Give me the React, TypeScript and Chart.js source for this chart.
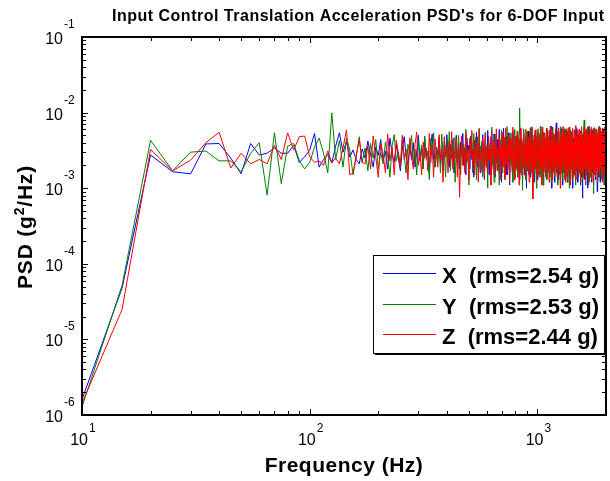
import React, { useEffect, useRef } from "react";
import { Chart, registerables } from "chart.js";

Chart.register(...registerables);

// ---------- data ----------
const freqStart = 10;
const freqStep = 5;
const freqEnd = 2000;
const frequencies: number[] = [];
for (let f = freqStart; f <= freqEnd; f += freqStep) frequencies.push(f);

// PSD values in units of 1e-3 g^2/Hz, one per frequency bin (10, 15, 20, ... 2000 Hz)
const psdUnit = 1e-3;

const psdX = [
  0.0016, 0.048, 2.75, 1.65, 1.55, 3.85, 3.9, 2.5, 1.55, 3.9, 2.75, 2.9, 3.4, 2.9, 2.9, 3.7, 2.2, 2.6, 3.2, 5.3,
  1.9, 2.4, 2.8, 2.15, 3.6, 5.4, 3.0, 4.1, 2.6, 3.2, 2.4, 2.1, 3.3, 2.5, 4.2, 2.8, 1.9, 3.5, 2.7, 4.4,
  2.3, 3.1, 1.8, 4.6, 2.9, 2.2, 3.8, 2.5, 1.7, 3.3, 4.8, 2.6, 2.0, 3.6, 2.4, 4.0, 1.9, 3.0, 5.0, 2.3,
  3.4, 1.8, 4.5, 2.7, 3.1, 1.6, 3.9, 5.2, 2.4, 1.9, 3.5, 2.8, 4.7, 2.1, 3.3, 1.7, 4.2, 2.6, 5.1, 3.0,
  1.9, 3.8, 2.5, 4.4, 1.6, 3.2, 5.0, 2.2, 3.6, 1.8, 4.1, 2.7, 5.3, 2.0, 3.4, 1.5, 4.6, 2.9, 3.7, 1.8,
  4.9, 2.4, 3.3, 1.4, 4.3, 2.8, 5.5, 1.9, 3.1, 4.0, 1.6, 3.6, 2.3, 5.1, 2.7, 1.3, 4.5, 3.0, 2.1, 5.8,
  2.5, 1.5, 3.9, 4.8, 1.8, 3.2, 2.6, 5.2, 1.4, 3.7, 2.2, 4.4, 1.7, 3.4, 6.0, 2.0, 2.9, 1.2, 4.7, 3.1,
  6.2, 1.9, 3.5, 2.4, 4.9, 1.5, 3.0, 5.4, 2.2, 1.1, 4.1, 2.8, 3.6, 1.7, 5.6, 2.5, 3.3, 1.4, 4.6, 2.0,
  3.8, 5.0, 1.6, 2.9, 4.3, 1.3, 3.4, 6.1, 2.3, 1.8, 4.0, 2.7, 5.3, 1.5, 3.1, 2.1, 4.8, 1.0, 3.7, 2.6,
  5.7, 1.9, 3.2, 4.5, 1.4, 2.8, 6.3, 2.2, 1.6, 4.2, 3.0, 1.2, 5.1, 2.5, 3.6, 1.8, 4.7, 2.4, 1.3, 5.5,
  2.9, 3.9, 1.5, 4.4, 2.1, 6.0, 1.7, 3.3, 2.6, 4.9, 1.1, 3.5, 2.3, 5.2, 1.6, 3.8, 2.8, 1.3, 4.6, 2.0,
  5.8, 1.8, 3.1, 4.1, 1.4, 2.7, 6.6, 2.2, 3.6, 1.0, 4.3, 2.5, 5.0, 1.7, 3.4, 2.9, 1.2, 4.8, 2.1, 3.7,
  7.3, 1.6, 3.0, 4.5, 2.3, 1.3, 5.4, 2.8, 3.9, 1.5, 4.2, 2.0, 6.1, 1.8, 3.3, 2.6, 1.1, 5.0, 2.4, 3.5,
  1.7, 4.7, 2.2, 5.9, 1.4, 3.2, 2.7, 4.0, 1.2, 5.6, 2.5, 3.6, 1.6, 4.4, 2.1, 6.4, 1.3, 3.0, 2.8, 4.9,
  1.8, 3.8, 2.3, 5.3, 1.0, 3.4, 4.6, 2.0, 1.5, 5.9, 2.6, 3.1, 1.3, 4.3, 2.2, 6.2, 1.7, 3.7, 2.9, 1.2,
  5.1, 2.4, 3.9, 1.6, 4.8, 2.0, 3.3, 1.1, 5.7, 2.7, 3.5, 1.4, 4.2, 0.74, 3.0, 2.2, 5.4, 1.8, 3.8, 2.5,
  1.3, 6.0, 2.1, 3.2, 4.5, 1.5, 2.8, 5.2, 1.9, 3.6, 1.0, 4.9, 2.4, 3.1, 6.5, 1.7, 2.6, 4.1, 1.4, 3.4,
  5.6, 2.0, 3.7, 1.2, 4.4, 2.9, 1.6, 5.9, 2.3, 3.3, 1.1, 4.7, 2.6, 3.9, 1.5, 6.1, 2.1, 3.0, 1.3, 4.6,
  2.7, 5.3, 1.8, 3.5, 0.9, 4.2, 2.4, 3.2, 1.4, 6.3, 2.0, 3.8, 1.7, 5.0, 2.5, 1.2, 4.4, 3.1, 2.2, 5.7,
  1.6, 3.6, 2.8, 4.9, 1.3, 3.0, 2.3, 6.0, 1.9, 3.4, 1.1, 4.5, 2.6, 3.7, 1.5, 5.2, 2.1, 3.3, 0.025,
];

const psdY = [
  0.00128, 0.052, 4.3, 1.7, 3.0, 3.1, 2.3, 2.3, 1.65, 2.9, 4.0, 0.81, 5.4, 1.15, 3.6, 3.9, 2.3, 1.8, 2.2, 3.5,
  4.6, 2.9, 1.6, 9.9, 2.4, 4.3, 1.9, 4.6, 3.2, 1.5, 2.6, 4.8, 2.2, 3.4, 1.7, 3.9, 2.5, 4.4, 1.8, 3.0,
  2.1, 4.1, 2.7, 1.4, 3.6, 5.1, 2.3, 3.0, 1.9, 4.4, 2.6, 1.6, 3.8, 2.9, 5.0, 2.0, 3.3, 1.5, 4.2, 2.5,
  3.7, 1.8, 4.9, 2.4, 3.1, 1.3, 4.5, 2.8, 5.4, 1.9, 3.4, 2.2, 4.0, 1.6, 5.2, 2.7, 3.0, 1.4, 4.3, 2.3,
  5.6, 1.7, 3.5, 2.6, 4.7, 1.2, 3.2, 2.0, 5.0, 2.9, 1.5, 4.1, 2.4, 3.8, 1.8, 6.0, 2.2, 3.3, 1.1, 4.6,
  2.7, 3.9, 1.6, 5.3, 2.1, 3.4, 1.3, 4.8, 2.5, 6.2, 1.8, 3.0, 4.2, 1.4, 3.6, 2.3, 5.5, 1.9, 2.8, 1.0,
  4.4, 2.6, 3.7, 1.5, 6.4, 2.0, 3.2, 1.2, 4.9, 2.8, 5.1, 1.7, 3.5, 2.2, 1.1, 4.3, 2.9, 5.8, 1.6, 3.3,
  2.4, 4.7, 1.3, 3.9, 2.1, 6.5, 1.8, 3.0, 4.4, 1.5, 2.7, 5.4, 2.0, 3.6, 1.2, 4.1, 2.5, 6.0, 1.7, 3.1,
  4.8, 2.2, 1.4, 3.7, 5.2, 11.5, 2.6, 1.6, 4.5, 2.9, 0.94, 3.4, 6.1, 1.9, 3.0, 4.2, 1.3, 2.7, 5.6, 2.1,
  3.8, 1.5, 4.6, 2.4, 6.3, 1.8, 3.2, 2.0, 5.0, 1.2, 3.6, 4.4, 1.6, 2.8, 5.9, 2.2, 1.0, 4.0, 3.0, 1.7,
  5.3, 2.5, 3.4, 1.4, 6.6, 2.1, 3.9, 1.6, 4.7, 2.8, 1.1, 5.5, 2.3, 3.2, 1.8, 4.2, 2.6, 6.2, 1.3, 3.6,
  2.0, 4.9, 1.7, 3.1, 5.7, 1.5, 2.7, 4.3, 1.2, 3.8, 6.4, 2.2, 1.6, 4.5, 2.9, 5.1, 1.4, 3.3, 2.4, 6.0,
  1.8, 3.5, 2.6, 4.8, 1.1, 3.0, 5.6, 2.0, 1.5, 4.1, 2.8, 6.5, 1.7, 3.7, 2.3, 1.3, 5.0, 2.5, 3.9, 1.6,
  6.1, 2.1, 3.4, 1.2, 4.6, 2.9, 1.9, 5.4, 2.4, 3.6, 1.4, 6.3, 2.2, 3.1, 1.0, 4.4, 2.7, 5.9, 1.6, 3.3,
  2.5, 4.7, 1.3, 3.8, 6.0, 1.8, 2.9, 4.2, 1.5, 5.5, 2.3, 3.5, 1.1, 6.7, 2.0, 3.2, 4.9, 1.7, 2.6, 5.2,
  1.4, 3.7, 2.2, 4.5, 1.9, 5.0, 2.8, 1.2, 4.0, 3.0, 6.2, 1.6, 3.4, 2.4, 5.1, 1.3, 3.9, 2.1, 6.4, 8.0,
  1.8, 4.3, 2.5, 3.6, 1.1, 5.8, 2.0, 3.3, 1.5, 4.8, 2.9, 6.5, 1.7, 3.0, 2.3, 4.6, 1.2, 5.3, 2.6, 3.8,
  1.6, 6.0, 2.1, 3.5, 1.3, 4.4, 2.8, 5.6, 1.9, 3.2, 0.85, 4.9, 2.4, 6.3, 1.5, 3.7, 2.2, 4.1, 1.4, 5.4,
  2.7, 3.4, 1.7, 6.1, 2.0, 4.6, 1.2, 3.9, 2.5, 5.2, 1.6, 3.1, 2.3, 6.6, 1.4, 4.3, 2.9, 1.8, 5.7, 2.1,
  3.6, 1.3, 4.8, 2.6, 6.2, 1.9, 3.3, 1.5, 5.0, 2.4, 3.8, 1.1, 6.4, 2.2, 4.1, 1.7, 3.5, 2.8, 0.013,
];

const psdZ = [
  0.00143, 0.025, 3.25, 1.7, 2.35, 4.0, 5.5, 1.85, 2.9, 2.1, 2.4, 2.1, 3.7, 2.4, 5.4, 3.2, 4.8, 4.9, 2.6, 2.2,
  2.3, 2.0, 3.1, 2.2, 2.5, 2.1, 3.4, 5.9, 1.5, 1.6, 2.7, 4.4, 2.2, 2.1, 3.6, 1.8, 4.9, 2.6, 1.4, 3.9,
  2.8, 1.6, 5.2, 2.3, 3.5, 1.5, 4.3, 2.9, 1.9, 5.0, 2.4, 3.3, 1.3, 4.6, 2.7, 1.8, 3.8, 5.5, 2.0, 3.0,
  1.5, 4.1, 2.5, 3.4, 1.7, 5.3, 2.2, 3.7, 1.4, 4.5, 2.8, 1.9, 5.1, 2.4, 3.2, 1.2, 4.8, 2.6, 3.6, 1.6,
  4.2, 2.1, 5.6, 1.8, 3.0, 2.5, 4.6, 1.4, 3.9, 0.76, 2.7, 4.9, 2.0, 3.5, 1.6, 5.4, 2.3, 3.1, 1.3, 4.4,
  2.6, 5.8, 1.9, 3.3, 1.5, 4.7, 2.2, 3.8, 1.2, 6.0, 2.5, 3.0, 1.7, 4.5, 2.9, 1.4, 5.2, 2.0, 3.6, 1.6,
  4.9, 2.4, 3.2, 1.1, 5.6, 2.7, 3.9, 1.5, 4.3, 2.1, 6.1, 1.8, 3.4, 2.6, 4.8, 1.3, 3.7, 2.3, 5.5, 1.9,
  3.1, 4.4, 1.4, 6.2, 2.2, 3.5, 1.7, 5.0, 2.8, 1.2, 4.6, 2.5, 3.8, 1.6, 6.4, 2.0, 3.3, 1.3, 4.9, 2.7,
  1.8, 5.7, 2.3, 3.6, 1.1, 4.5, 3.0, 6.3, 1.5, 2.6, 4.1, 1.9, 5.3, 2.4, 3.4, 1.4, 6.0, 2.1, 3.9, 1.7,
  4.7, 2.8, 1.2, 5.5, 2.2, 3.7, 1.6, 6.5, 2.5, 0.72, 4.3, 3.1, 1.8, 5.8, 2.0, 3.5, 1.3, 4.9, 2.7, 6.1,
  1.5, 3.3, 2.4, 5.0, 1.9, 4.2, 2.9, 1.1, 6.4, 2.2, 3.6, 1.7, 5.4, 2.6, 3.9, 1.4, 4.7, 2.0, 6.2, 2.8,
  1.6, 4.4, 3.0, 1.2, 5.9, 2.3, 3.5, 1.8, 6.6, 2.5, 1.3, 4.6, 3.2, 2.0, 5.3, 1.5, 3.8, 2.7, 6.0, 1.9,
  4.1, 2.4, 1.4, 5.7, 3.1, 2.1, 6.3, 1.7, 3.7, 2.6, 1.0, 4.8, 2.3, 5.5, 1.6, 3.4, 2.9, 6.5, 1.8, 4.0,
  2.2, 1.3, 5.1, 3.3, 2.0, 6.1, 1.5, 3.9, 2.7, 4.6, 1.2, 5.8, 2.4, 3.6, 1.7, 6.4, 2.1, 1.1, 4.3, 3.0,
  5.6, 1.9, 3.5, 2.5, 6.2, 1.4, 4.0, 2.8, 1.6, 5.3, 3.2, 2.0, 6.7, 1.3, 3.8, 2.6, 4.9, 1.8, 5.9, 2.3,
  1.5, 4.5, 3.0, 6.0, 1.7, 3.6, 2.2, 5.4, 1.2, 4.1, 2.8, 6.5, 1.9, 3.3, 2.4, 5.0, 1.4, 4.4, 2.7, 6.3,
  1.8, 3.7, 2.1, 5.7, 1.3, 4.6, 3.1, 2.3, 6.1, 1.6, 3.9, 2.6, 5.2, 1.1, 4.3, 2.9, 6.6, 1.7, 3.4, 2.2,
  5.5, 1.4, 4.0, 2.7, 6.4, 1.9, 3.2, 2.4, 5.0, 1.2, 4.7, 3.0, 6.2, 1.6, 3.6, 2.1, 5.8, 1.5, 4.2, 2.8,
  6.0, 1.8, 3.5, 2.3, 5.4, 1.3, 4.4, 2.6, 6.5, 1.7, 3.8, 2.0, 5.1, 1.4, 4.6, 3.1, 6.3, 1.9, 3.3, 2.5,
  5.7, 1.6, 4.1, 2.9, 6.1, 1.2, 3.7, 2.2, 5.3, 1.8, 4.5, 2.7, 6.4, 1.5, 3.9, 2.4, 5.6, 1.9, 0.06,
];

const seriesValues = [psdX, psdY, psdZ];
const seriesNames = ["X  (rms=2.54 g)", "Y  (rms=2.53 g)", "Z  (rms=2.44 g)"];
const seriesColors = ["#0000ff", "#008000", "#ff0000"];

const xMin = 10;
const xMax = 2000;
const yMin = 1e-6;
const yMax = 1e-1;
const xTickExponents = [1, 2, 3];
const yTickExponents = [-6, -5, -4, -3, -2, -1];

const titleText = "Input Control Translation Acceleration PSD's for 6-DOF Input";
const xTitle = "Frequency (Hz)";
const yTitleParts = ["PSD (g", "2", "/Hz)"];

const FONT = 'Arial, "Liberation Sans", Helvetica, sans-serif';

function setSpacing(ctx: any, v: string) {
  try {
    ctx.letterSpacing = v;
  } catch (e) {}
}

const decorPlugin = {
  id: "matlabDecor",
  afterDatasetsDraw(chart: any) {
    const ctx: CanvasRenderingContext2D = chart.ctx;
    const { left, right, top, bottom } = chart.chartArea;
    const xs = chart.scales.x;
    const ys = chart.scales.y;
    ctx.save();

    // ticks (inward, all four sides)
    ctx.strokeStyle = "#000";
    ctx.lineWidth = 1;
    ctx.beginPath();
    for (let d = 1; d <= 3; d++) {
      for (let m = 1; m <= 9; m++) {
        const v = m * Math.pow(10, d);
        if (v <= xMin || v >= xMax) continue;
        const px = Math.round(xs.getPixelForValue(v)) + 0.5;
        const len = m === 1 ? 6 : 4;
        ctx.moveTo(px, bottom);
        ctx.lineTo(px, bottom - len);
        ctx.moveTo(px, top);
        ctx.lineTo(px, top + len);
      }
    }
    for (let d = -6; d <= -2; d++) {
      for (let m = 1; m <= 9; m++) {
        const v = m * Math.pow(10, d);
        if (v <= yMin || v >= yMax) continue;
        const py = Math.round(ys.getPixelForValue(v)) + 0.5;
        const len = m === 1 ? 6 : 4;
        ctx.moveTo(left, py);
        ctx.lineTo(left + len, py);
        ctx.moveTo(right, py);
        ctx.lineTo(right - len, py);
      }
    }
    ctx.stroke();

    // axes box
    ctx.lineWidth = 2;
    ctx.strokeRect(left, top, right - left, bottom - top);

    // tick labels
    ctx.fillStyle = "#000";
    ctx.textBaseline = "alphabetic";
    for (const e of yTickExponents) {
      const py = ys.getPixelForValue(Math.pow(10, e));
      ctx.font = `16px ${FONT}`;
      ctx.textAlign = "right";
      ctx.fillText("10", 63, py + 7);
      ctx.font = `12px ${FONT}`;
      ctx.textAlign = "left";
      ctx.fillText(String(e), 64, py - 9);
    }
    for (const e of xTickExponents) {
      const px = xs.getPixelForValue(Math.pow(10, e));
      ctx.font = `16px ${FONT}`;
      ctx.textAlign = "right";
      ctx.fillText("10", px + 6, 445);
      ctx.font = `12px ${FONT}`;
      ctx.textAlign = "left";
      ctx.fillText(String(e), px + 7, 432);
    }

    // legend
    const lx = 373, ly = 255, lw = 232, lh = 99;
    ctx.fillStyle = "#fff";
    ctx.fillRect(lx, ly, lw, lh);
    ctx.strokeStyle = "#000";
    ctx.lineWidth = 1;
    ctx.strokeRect(lx + 0.5, ly + 0.5, lw - 1, lh - 1);
    ctx.beginPath();
    ctx.moveTo(lx + lw + 0.5, ly + 2);
    ctx.lineTo(lx + lw + 0.5, ly + lh + 0.5);
    ctx.lineTo(lx + 2, ly + lh + 0.5);
    ctx.stroke();
    const rowY = [273, 304, 334];
    ctx.font = `bold 22px ${FONT}`;
    ctx.textAlign = "left";
    for (let k = 0; k < seriesNames.length; k++) {
      ctx.strokeStyle = seriesColors[k];
      ctx.lineWidth = 1;
      ctx.beginPath();
      ctx.moveTo(383, rowY[k] + 0.5);
      ctx.lineTo(436, rowY[k] + 0.5);
      ctx.stroke();
      ctx.fillStyle = "#000";
      ctx.fillText(seriesNames[k], 442, rowY[k] + 10);
    }

    // title
    ctx.fillStyle = "#000";
    ctx.font = `bold 16px ${FONT}`;
    setSpacing(ctx, "0.5px");
    ctx.textAlign = "left";
    ctx.fillText(titleText, 112, 21);

    // x axis title
    ctx.font = `bold 21px ${FONT}`;
    setSpacing(ctx, "0.5px");
    ctx.textAlign = "center";
    ctx.fillText(xTitle, 344, 472);

    // y axis title (rotated)
    ctx.save();
    ctx.translate(32, 227);
    ctx.rotate(-Math.PI / 2);
    ctx.textAlign = "left";
    setSpacing(ctx, "0.8px");
    const bigFont = `bold 21px ${FONT}`;
    const supFont = `bold 14px ${FONT}`;
    ctx.font = bigFont;
    const w0 = ctx.measureText(yTitleParts[0]).width;
    const w2 = ctx.measureText(yTitleParts[2]).width;
    ctx.font = supFont;
    const w1 = ctx.measureText(yTitleParts[1]).width;
    let cx = -(w0 + w1 + w2) / 2;
    ctx.font = bigFont;
    ctx.fillText(yTitleParts[0], cx, 0);
    cx += w0;
    ctx.font = supFont;
    ctx.fillText(yTitleParts[1], cx, -8);
    cx += w1;
    ctx.font = bigFont;
    ctx.fillText(yTitleParts[2], cx, 0);
    ctx.restore();

    setSpacing(ctx, "0px");
    ctx.restore();
  },
};

export default function App() {
  const canvasRef = useRef<HTMLCanvasElement | null>(null);

  useEffect(() => {
    const canvas = canvasRef.current;
    if (!canvas) return;
    const datasets = seriesValues.map((vals, k) => ({
      label: seriesNames[k],
      data: vals.map((v, i) => ({ x: frequencies[i], y: v * psdUnit })),
      borderColor: seriesColors[k],
      backgroundColor: seriesColors[k],
      borderWidth: 1,
      pointRadius: 0,
      tension: 0,
      fill: false,
      order: 2 - k,
    }));
    const chart = new Chart(canvas, {
      type: "line",
      data: { datasets },
      options: {
        animation: false,
        responsive: false,
        devicePixelRatio: 1,
        events: [],
        layout: { padding: { left: 82, top: 37, right: 4, bottom: 66 } },
        plugins: {
          legend: { display: false },
          title: { display: false },
          tooltip: { enabled: false },
        },
        scales: {
          x: { type: "logarithmic", min: xMin, max: xMax, display: false },
          y: { type: "logarithmic", min: yMin, max: yMax, display: false },
        },
      } as any,
      plugins: [decorPlugin],
    });
    return () => chart.destroy();
  }, []);

  return (
    <div style={{ position: "fixed", left: 0, top: 0, width: 610, height: 481, background: "#fff" }}>
      <canvas ref={canvasRef} width={610} height={481} style={{ display: "block" }} />
    </div>
  );
}
